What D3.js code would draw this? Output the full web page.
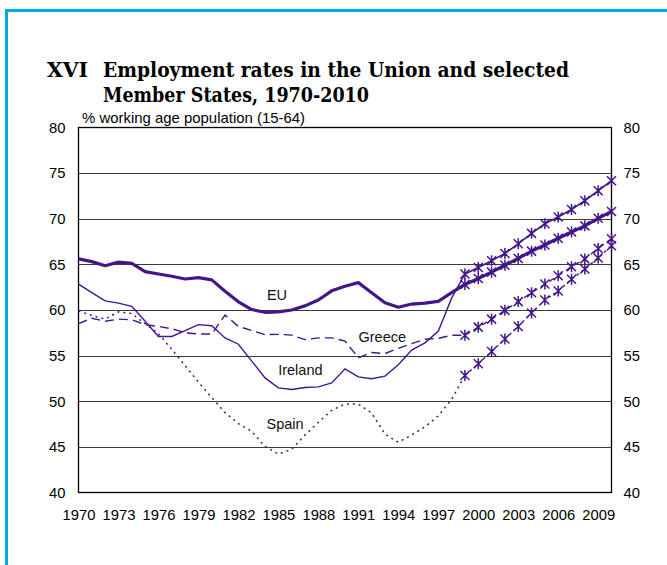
<!DOCTYPE html>
<html>
<head>
<meta charset="utf-8">
<script src="https://cdn.jsdelivr.net/npm/d3@7"></script>
<style>
  html, body { margin: 0; padding: 0; background: #ffffff; }
  svg { display: block; }
</style>
</head>
<body>
<svg id="chart" width="667" height="565"></svg>
<script>
// ---------- DATA ----------
const years = [1970,1971,1972,1973,1974,1975,1976,1977,1978,1979,
               1980,1981,1982,1983,1984,1985,1986,1987,1988,1989,
               1990,1991,1992,1993,1994,1995,1996,1997,1998,1999];
const projYears = [1999,2000,2001,2002,2003,2004,2005,2006,2007,2008,2009,2010];
const xTickLabels = ["1970","1973","1976","1979","1982","1985","1988","1991","1994","1997","2000","2003","2006","2009"];
const yTickLabels = [40,45,50,55,60,65,70,75,80];

const euHist = [65.6,65.3,64.85,65.25,65.1,64.2,63.95,63.7,63.4,63.55,
                63.3,62.05,60.9,60.05,59.75,59.8,60.0,60.45,61.1,62.1,
                62.6,63.0,61.9,60.8,60.3,60.65,60.75,60.95,61.9,62.8];
const irelandHist = [62.84,61.9,61.0,60.76,60.4,58.76,57.1,57.1,57.73,58.4,
                     58.28,56.94,56.25,54.4,52.56,51.47,51.29,51.5,51.58,52.0,
                     53.55,52.67,52.46,52.75,54.0,55.6,56.4,57.67,61.3,63.95];
const greeceHist = [58.5,59.1,58.76,59.0,58.92,58.4,58.2,57.95,57.5,57.37,
                    57.37,59.45,58.2,57.75,57.3,57.33,57.25,56.75,56.95,56.94,
                    56.6,54.76,55.35,55.22,55.8,56.32,56.8,56.9,57.23,57.23];
const spainHist = [59.9,59.4,59.0,59.8,59.6,58.5,57.4,55.7,53.9,52.1,
                   50.4,48.75,47.55,46.7,45.05,44.2,44.75,46.3,47.7,49.0,
                   49.7,49.7,48.7,46.4,45.5,46.3,47.2,48.4,50.2,52.82];

const euProj = [62.8,63.45,64.15,64.9,65.65,66.45,67.12,67.87,68.55,69.22,70.05,70.8];
const irelandProj = [63.95,64.65,65.4,66.2,67.25,68.4,69.45,70.2,71.02,71.98,73.07,74.17];
const greeceProj = [57.23,58.12,59.0,59.96,60.92,61.9,62.84,63.75,64.75,65.6,66.75,67.8];
const spainProj = [52.82,54.1,55.45,56.83,58.2,59.67,61.1,62.08,63.38,64.5,65.7,67.05];

const seriesLabels = [
  {name: "EU", year: 1984.9, value: 61.05},
  {name: "Greece", year: 1992.8, value: 56.5},
  {name: "Ireland", year: 1986.65, value: 52.9},
  {name: "Spain", year: 1985.5, value: 46.95}
];

// ---------- LAYOUT ----------
const purple = "#43178a";
const svg = d3.select("#chart");
const mLeft = 78.5, mRight = 611.5, mTop = 127.5, mBottom = 492.5;

const x = d3.scaleLinear().domain([1970, 2010]).range([mLeft, mRight]);
const y = d3.scaleLinear().domain([40, 80]).range([mBottom, mTop]);

// frame (blue corner border)
svg.append("line").attr("x1", 5).attr("x2", 667).attr("y1", 10.5).attr("y2", 10.5)
  .attr("stroke", "#00a8e8").attr("stroke-width", 3);
svg.append("line").attr("x1", 6.5).attr("x2", 6.5).attr("y1", 9).attr("y2", 565)
  .attr("stroke", "#00a8e8").attr("stroke-width", 3);

// title
const title = svg.append("g").attr("font-family", "'DejaVu Serif', 'Liberation Serif', serif")
  .attr("font-weight", "bold").attr("font-size", 20.5).attr("fill", "#000");
title.append("text").attr("x", 47).attr("y", 77).text("XVI")
  .attr("textLength", 41).attr("lengthAdjust", "spacingAndGlyphs");
title.append("text").attr("x", 103).attr("y", 77).text("Employment rates in the Union and selected")
  .attr("textLength", 466).attr("lengthAdjust", "spacingAndGlyphs");
title.append("text").attr("x", 103).attr("y", 102).text("Member States, 1970-2010")
  .attr("textLength", 266).attr("lengthAdjust", "spacingAndGlyphs");

// subtitle
svg.append("text").attr("x", 82).attr("y", 123)
  .attr("font-family", "'Liberation Sans', Arial, sans-serif").attr("font-size", 14.5)
  .attr("textLength", 223).attr("lengthAdjust", "spacingAndGlyphs")
  .text("% working age population (15-64)");

// gridlines
svg.append("g").selectAll("line").data(yTickLabels.filter(v => v > 40 && v < 80)).join("line")
  .attr("x1", mLeft).attr("x2", mRight)
  .attr("y1", d => Math.round(y(d)) + 0.5).attr("y2", d => Math.round(y(d)) + 0.5)
  .attr("stroke", "#3a3a3a").attr("stroke-width", 1.2);

// axes (left and right)
const yAxisL = d3.axisLeft(y).tickValues(yTickLabels).tickSize(0).tickPadding(13).tickFormat(d3.format("d"));
const yAxisR = d3.axisRight(y).tickValues(yTickLabels).tickSize(0).tickPadding(12).tickFormat(d3.format("d"));
const xAxis = d3.axisBottom(x).tickValues(xTickLabels.map(Number)).tickSize(0).tickPadding(17).tickFormat(d3.format("d"));

function styleAxis(g) {
  g.select(".domain").remove();
  g.selectAll("text").attr("font-family", "'Liberation Sans', Arial, sans-serif")
    .attr("font-size", 14.8).attr("fill", "#000");
}
svg.append("g").attr("transform", `translate(${mLeft},0)`).call(yAxisL).call(styleAxis);
svg.append("g").attr("transform", `translate(${mRight},0)`).call(yAxisR).call(styleAxis);
svg.append("g").attr("transform", `translate(0,${mBottom})`).call(xAxis).call(styleAxis);

// plot frame
svg.append("rect").attr("x", mLeft).attr("y", mTop).attr("width", mRight - mLeft).attr("height", mBottom - mTop)
  .attr("fill", "none").attr("stroke", "#000").attr("stroke-width", 1.3);

// ---------- LINES ----------
const lineGen = d3.line().x(d => x(d[0])).y(d => y(d[1]));
function pairs(xs, vs) { return xs.map((yr, i) => [yr, vs[i]]); }

const g = svg.append("g").attr("fill", "none").attr("stroke", purple);

// historical
g.append("path").attr("d", lineGen(pairs(years, spainHist))).attr("stroke-width", 1.5).attr("stroke-dasharray", "2,4");
g.append("path").attr("d", lineGen(pairs(years, greeceHist))).attr("stroke-width", 1.4).attr("stroke-dasharray", "9,5");
g.append("path").attr("d", lineGen(pairs(years, irelandHist))).attr("stroke-width", 1.4);
g.append("path").attr("d", lineGen(pairs(years, euHist))).attr("stroke-width", 3.2).attr("stroke-linejoin", "round");

// projections
g.append("path").attr("d", lineGen(pairs(projYears, spainProj))).attr("stroke-width", 1.4).attr("stroke-dasharray", "3,3");
g.append("path").attr("d", lineGen(pairs(projYears, greeceProj))).attr("stroke-width", 1.4).attr("stroke-dasharray", "6,4");
g.append("path").attr("d", lineGen(pairs(projYears, irelandProj))).attr("stroke-width", 1.6);
g.append("path").attr("d", lineGen(pairs(projYears, euProj))).attr("stroke-width", 3.2);

// markers (asterisk-like)
const markerPath = "M-4.5,-4.5L4.5,4.5M-4.5,4.5L4.5,-4.5M0,-5.5L0,5.5";
[spainProj, greeceProj, irelandProj, euProj].forEach(vals => {
  g.append("g").selectAll("path").data(pairs(projYears, vals)).join("path")
    .attr("transform", d => `translate(${x(d[0])},${y(d[1])})`)
    .attr("d", markerPath).attr("stroke-width", 1.5);
});

// series labels
svg.append("g").selectAll("text").data(seriesLabels).join("text")
  .attr("x", d => x(d.year)).attr("y", d => y(d.value))
  .attr("text-anchor", "middle")
  .attr("font-family", "'Liberation Sans', Arial, sans-serif").attr("font-size", 14.5)
  .attr("fill", "#111").text(d => d.name);
</script>
</body>
</html>
